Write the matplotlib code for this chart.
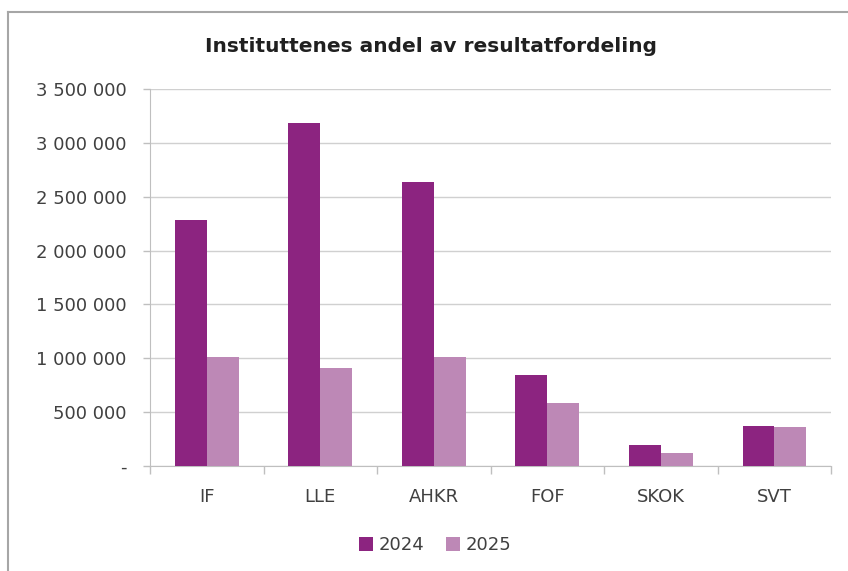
import numpy as np
import matplotlib.pyplot as plt
from matplotlib.lines import Line2D
from matplotlib.ticker import FuncFormatter

categories = ['IF', 'LLE', 'AHKR', 'FOF', 'SKOK', 'SVT']
values_2024 = [2280000, 3180000, 2640000, 845000, 195000, 370000]
values_2025 = [1010000, 910000, 1010000, 585000, 120000, 360000]
series_labels = ['2024', '2025']

color_2024 = '#8C2480'
color_2025 = '#BD88B6'
grid_color = '#D0D0D0'
text_color = '#404040'


def fmt(v, pos):
    if v == 0:
        return '-'
    return f'{int(v):,}'.replace(',', ' ')


def main():
    fig = plt.figure(figsize=(8.48, 5.71), dpi=100)
    ax = fig.add_axes([0.1769, 0.1839, 0.8031, 0.6602])

    x = np.arange(len(categories))
    w = 0.28
    ax.bar(x - w / 2, values_2024, w, color=color_2024, label=series_labels[0], zorder=3)
    ax.bar(x + w / 2, values_2025, w, color=color_2025, label=series_labels[1], zorder=3)

    ax.set_xlim(-0.5, len(categories) - 0.5)
    ax.set_ylim(0, 3500000)
    ax.set_yticks(np.arange(0, 3500001, 500000))
    ax.yaxis.set_major_formatter(FuncFormatter(fmt))

    # category labels between boundary ticks
    ax.set_xticks(x)
    ax.set_xticklabels(categories)
    ax.set_xticks(np.arange(-0.5, len(categories)), minor=True)
    ax.tick_params(axis='x', which='major', length=0, pad=16, labelsize=13, labelcolor=text_color)
    ax.tick_params(axis='x', which='minor', length=6, color='#BFBFBF', width=1)
    ax.tick_params(axis='y', length=5, color='#BFBFBF', width=1, labelsize=13,
                   labelcolor=text_color, pad=12)

    ax.grid(axis='y', color=grid_color, linewidth=1, zorder=0)
    for s in ['top', 'right']:
        ax.spines[s].set_visible(False)
    ax.spines['left'].set_color('#BFBFBF')
    ax.spines['bottom'].set_color('#BFBFBF')

    fig.text(0.508, 0.919, 'Instituttenes andel av resultatfordeling',
             ha='center', va='center', fontsize=14.5, fontweight='bold', color='#202020')

    fig.legend(loc='center', bbox_to_anchor=(0.513, 0.0455), ncol=2, frameon=False,
               fontsize=13, handlelength=0.8, handleheight=0.8, handletextpad=0.3,
               columnspacing=1.2, labelcolor=text_color)

    # chart frame (left and top edges visible)
    border = '#A6A6A6'
    fig.add_artist(Line2D([8 / 848, 8 / 848], [0, 1 - 12 / 571], color=border, lw=1.5))
    fig.add_artist(Line2D([8 / 848, 1], [1 - 12 / 571, 1 - 12 / 571], color=border, lw=1.5))

    fig.savefig('out.png', dpi=100)


if __name__ == '__main__':
    main()
